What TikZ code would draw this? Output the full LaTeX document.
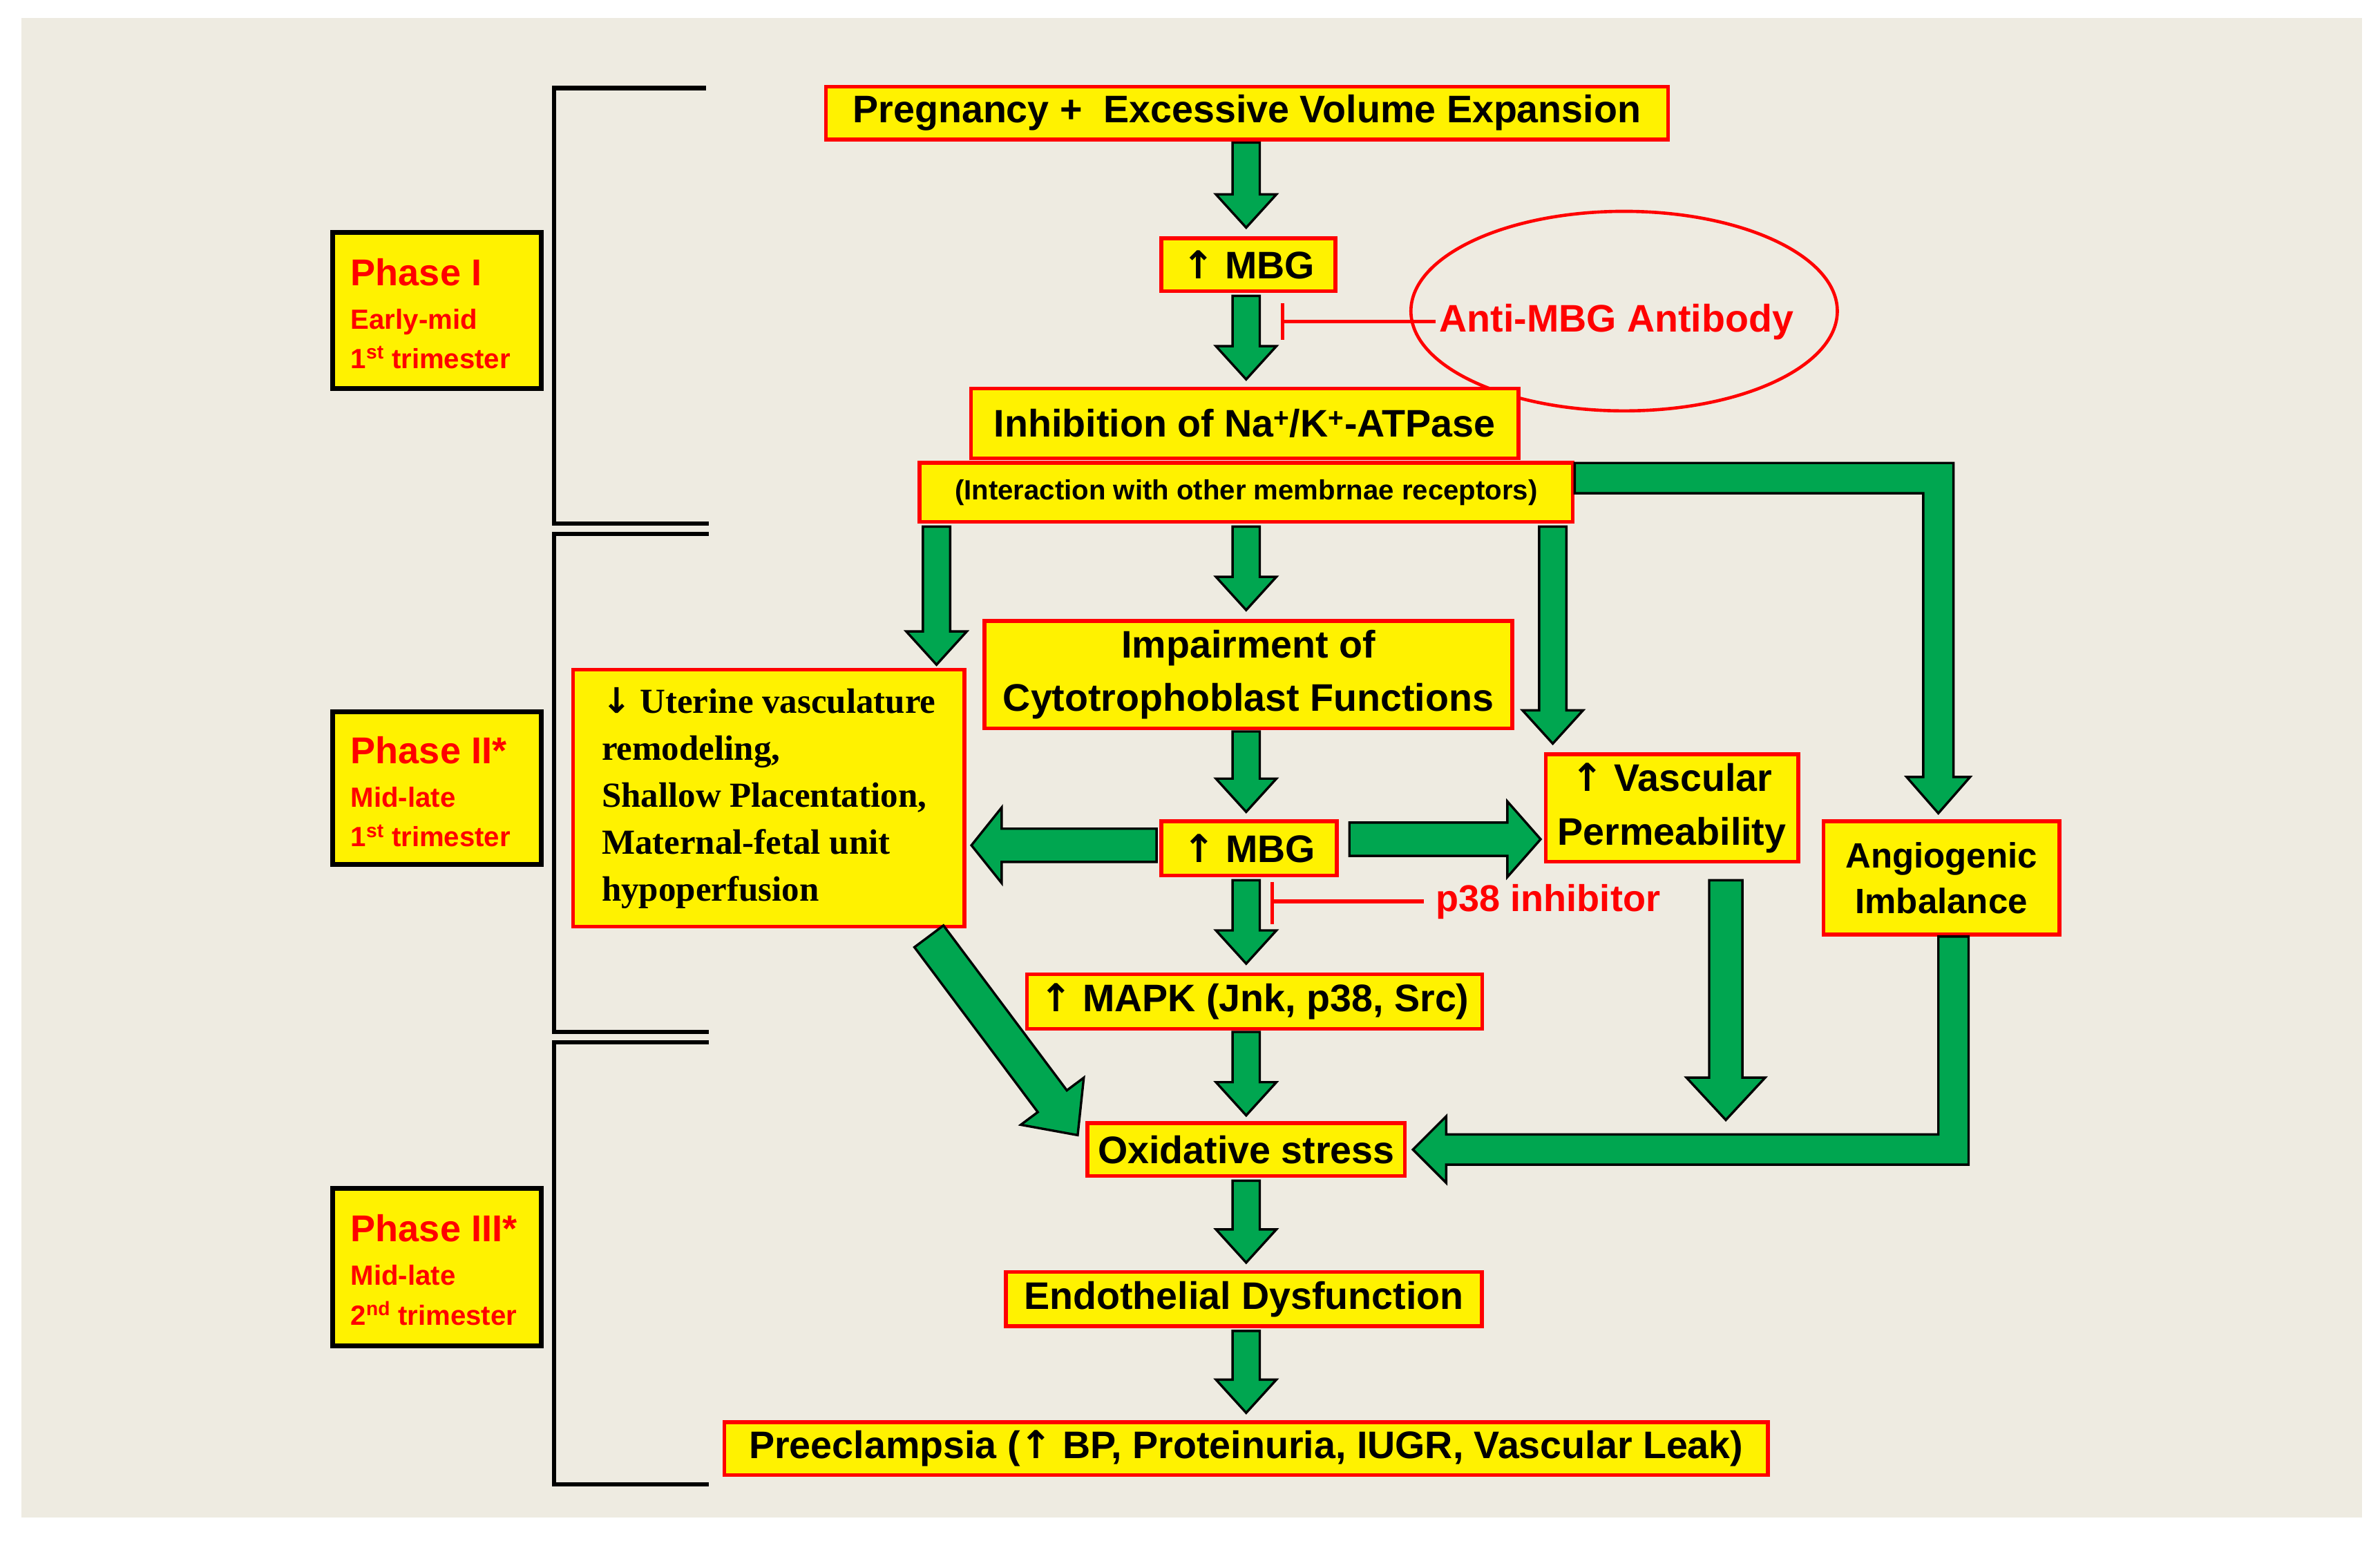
\documentclass[tikz,border=0pt]{standalone}
\usepackage{fontspec}
\setmainfont{Liberation Sans}
\newfontfamily\serifb{Liberation Serif}
\newfontfamily\arrfont{DejaVu Sans}
\usetikzlibrary{calc,shapes.geometric}
\definecolor{bg}{HTML}{EEEBE1}
\definecolor{garr}{HTML}{00A650}
\newcommand\upx{1.4173pt}
\newcommand\UA{{\arrfont\bfseries ↑}}
\newcommand\DA{{\arrfont\bfseries ↓}}
% straight block arrow: from, to, shaft half width, head half width, head length (display px)
\newcommand\garrow[5]{%
  \path[blk] let \p1=#1, \p2=#2, \n1={veclen(\x2-\x1,\y2-\y1)}, \n2={atan2(\y2-\y1,\x2-\x1)} in
    ($(\p1)+(\n2+90:{#3*\upx})$) --
    ($(\p1)+(\n2:{\n1*1pt-#5*\upx})+(\n2+90:{#3*\upx})$) --
    ($(\p1)+(\n2:{\n1*1pt-#5*\upx})+(\n2+90:{#4*\upx})$) --
    (\p2) --
    ($(\p1)+(\n2:{\n1*1pt-#5*\upx})+(\n2-90:{#4*\upx})$) --
    ($(\p1)+(\n2:{\n1*1pt-#5*\upx})+(\n2-90:{#3*\upx})$) --
    ($(\p1)+(\n2-90:{#3*\upx})$) -- cycle;}
\tikzset{
  blk/.style={draw=black, line width=2.2pt, fill=garr, line join=miter},
  box/.style={draw=red, line width=3.6pt, fill=yellow, inner sep=0pt, align=center, font=\bfseries\fontsize{36}{43}\selectfont},
  pbox/.style={draw=black, line width=4.5pt, fill=yellow, inner sep=0pt, align=left, text=red},
  ph/.style={text=red, anchor=base west, inner sep=0pt, font=\bfseries\fontsize{35}{42}\selectfont},
  psub/.style={text=red, anchor=base west, inner sep=0pt, font=\bfseries\fontsize{26}{31}\selectfont},
  brk/.style={draw=black, line width=4pt},
  inh/.style={draw=red, line width=3.4pt},
  bw/.style={minimum width={#1*\upx}},
  bh/.style={minimum height={#1*\upx}},
}
\begin{document}
\begin{tikzpicture}[x=0.05cm,y=-0.05cm]
\useasboundingbox (0,0) rectangle (1568,1015);
\fill[white] (0,0) rectangle (1568,1015);
\fill[bg] (14,12) rectangle (1556,1000);

% brackets
\draw[brk] (465,58) -- (365,58) -- (365,345) -- (467,345);
\draw[brk] (467,352) -- (365,352) -- (365,680) -- (467,680);
\draw[brk] (467,687) -- (365,687) -- (365,978) -- (467,978);

% phase boxes
\node[pbox, bw=138, bh=103] (p1) at (288,204.5) {};
\node[ph] (p1a) at (231,188) {Phase I};
\node[psub] (p1b) at (231,217) {Early-mid};
\node[psub] (p1c) at (231,243) {1\textsuperscript{st} trimester};
\node[pbox, bw=138, bh=101] (p2) at (288,519.5) {};
\node[ph] (p2a) at (231,503) {Phase II*};
\node[psub] (p2b) at (231,532) {Mid-late};
\node[psub] (p2c) at (231,558) {1\textsuperscript{st} trimester};
\node[pbox, bw=138, bh=104] (p3) at (288,835) {};
\node[ph] (p3a) at (231,818) {Phase III*};
\node[psub] (p3b) at (231,847) {Mid-late};
\node[psub] (p3c) at (231,873) {2\textsuperscript{nd} trimester};

% main boxes
\node[box, bw=557, bh=35] (preg) at (821.5,74.5) {Pregnancy +\ \ Excessive Volume Expansion};
\node[box, bw=115, bh=35] (mbg1) at (822.5,174.5) {\UA\ MBG};
\node[ellipse, draw=red, line width=3pt, bw=282, bh=132, inner sep=0pt] (anti) at (1070,205) {};
\node[text=red, font=\bfseries\fontsize{36}{43}\selectfont] (antit) at (1065,212) {Anti-MBG Antibody};
\node[box, bw=362, bh=46] (inhib) at (820,279) {Inhibition of Na\textsuperscript{+}/K\textsuperscript{+}-ATPase};
\node[box, bw=432, bh=39, font=\bfseries\fontsize{26}{31}\selectfont] (inter) at (821,324.5) {(Interaction with other membrnae receptors)};
\node[box, bw=349, bh=71, font=\bfseries\fontsize{36}{50}\selectfont] (imp) at (822.5,444.5) {Impairment of\\Cytotrophoblast Functions};
\node[box, bw=259, bh=170, align=left, font=\serifb\bfseries\fontsize{33}{44}\selectfont] (uter) at (506.5,526) {\DA\ Uterine vasculature\\remodeling,\\Shallow Placentation,\\Maternal-fetal unit\\hypoperfusion};
\node[box, bw=116, bh=36] (mbg2) at (823,559) {\UA\ MBG};
\node[box, bw=167, bh=71, font=\bfseries\fontsize{36}{50}\selectfont] (vasc) at (1101.5,532.5) {\UA\ Vascular\\Permeability};
\node[box, bw=156, bh=75, font=\bfseries\fontsize{33}{43}\selectfont] (ang) at (1279,578.5) {Angiogenic\\Imbalance};
\node[box, bw=301, bh=36] (mapk) at (826.5,660) {\UA\ MAPK (Jnk, p38, Src)};
\node[box, bw=210, bh=35] (ox) at (821,757.5) {Oxidative stress};
\node[box, bw=315, bh=36] (endo) at (819.5,856) {Endothelial Dysfunction};
\node[box, bw=690, bh=35] (pre) at (821,954.5) {Preeclampsia (\UA\ BP, Proteinuria, IUGR, Vascular Leak)};
\node[text=red, font=\bfseries\fontsize{35}{42}\selectfont, anchor=west, inner sep=0pt] (p38) at (946,594) {p38 inhibitor};

% inhibition lines
\coordinate (bar1) at (845,212);
\draw[inh] (antit.west) -- (bar1);
\draw[inh] (845,200) -- (845,224);
\coordinate (bar2) at (838,594);
\draw[inh] (p38.west) ++(-8,0) -- (bar2);
\draw[inh] (838,581) -- (838,609);

% vertical arrows
\garrow{(821,94)}{(821,150)}{9}{20}{22}
\garrow{(821,195)}{(821,250)}{9}{20}{22}
\garrow{(617,347)}{(617,438)}{9}{20}{22}
\garrow{(821,347)}{(821,402)}{9}{20}{22}
\garrow{(1023,347)}{(1023,490)}{9}{20}{22}
\garrow{(821,482)}{(821,535)}{9}{20}{22}
\garrow{(821,580)}{(821,635)}{9}{20}{22}
\garrow{(821,680)}{(821,735)}{9}{20}{22}
\garrow{(821,778)}{(821,832)}{9}{20}{22}
\garrow{(821,877)}{(821,931)}{9}{20}{22}
% horizontal from MBG2
\garrow{(762,557)}{(640,557)}{11}{25}{20}
\garrow{(889,553)}{(1015,553)}{11}{25}{22}
% vascular down
\coordinate (vs) at (1137,580);
\coordinate (vfree) at (1137,738);
\garrow{(vs)}{(vfree)}{11}{26}{28}
% diagonal
\coordinate (ds) at (612,617);
\coordinate (de) at (710,748);
\garrow{(ds)}{(de)}{12}{26}{28}

% L arrow: interaction -> angiogenic
\path[blk] let \p1=(inter.east), \p2=(ang.north) in
  (\x1,{\y1+9.5*\upx+10*\upx}) -- ({\x2-2*\upx+10*\upx},{\y1+9.5*\upx+10*\upx})
  -- ({\x2-2*\upx+10*\upx},{\y2+4*\upx+24*\upx}) -- ({\x2-2*\upx+21*\upx},{\y2+4*\upx+24*\upx})
  -- ({\x2-2*\upx},{\y2+4*\upx}) -- ({\x2-2*\upx-21*\upx},{\y2+4*\upx+24*\upx})
  -- ({\x2-2*\upx-10*\upx},{\y2+4*\upx+24*\upx}) -- ({\x2-2*\upx-10*\upx},{\y1+9.5*\upx-10*\upx})
  -- (\x1,{\y1+9.5*\upx-10*\upx}) -- cycle;
% L arrow: angiogenic -> oxidative
\path[blk] let \p1=(ang.south), \p2=(ox.east) in
  ({\x1+8*\upx-10*\upx},\y1) -- ({\x1+8*\upx+10*\upx},\y1)
  -- ({\x1+8*\upx+10*\upx},{\y2-10*\upx}) -- ({\x2+4*\upx+22*\upx},{\y2-10*\upx})
  -- ({\x2+4*\upx+22*\upx},{\y2-22*\upx}) -- ({\x2+4*\upx},\y2)
  -- ({\x2+4*\upx+22*\upx},{\y2+22*\upx}) -- ({\x2+4*\upx+22*\upx},{\y2+10*\upx})
  -- ({\x1+8*\upx-10*\upx},{\y2+10*\upx}) -- cycle;
\end{tikzpicture}
\end{document}
